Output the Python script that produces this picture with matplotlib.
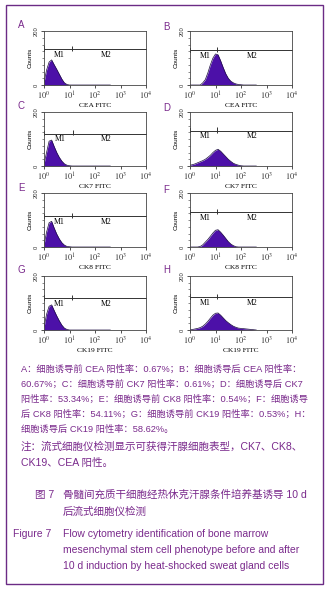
import numpy as np
import matplotlib
matplotlib.use("Agg")
import matplotlib.pyplot as plt
from matplotlib.patches import Rectangle

plt.rcParams['mathtext.fontset'] = 'stix'

# 数据：各面板的荧光强度 (log10) 与计数估计值
panel_labels = ['A', 'B', 'C', 'D', 'E', 'F', 'G', 'H']
x_labels = ['CEA FITC', 'CEA FITC', 'CK7 FITC', 'CK7 FITC',
            'CK8 FITC', 'CK8 FITC', 'CK19 FITC', 'CK19 FITC']
log_bins = [0.0, 0.1, 0.2, 0.3, 0.4, 0.5, 0.6, 0.7, 0.8, 0.9, 1.0, 1.1, 1.2,
            1.3, 1.4, 1.5, 1.6, 1.7, 1.8, 1.9, 2.0, 2.1, 2.2, 2.3, 2.4, 2.5, 2.6]
counts_A = [10, 55, 85, 93, 75, 58, 40, 22, 8, 2, 0, 0, 0, 0, 0, 0, 0, 0, 0, 0, 0, 0, 0, 0, 0, 0, 0]
counts_B = [0, 0, 0, 0, 0, 8, 20, 45, 75, 100, 115, 112, 90, 65, 42, 25, 14, 8, 4, 2, 1, 0, 0, 0, 0, 0, 0]
counts_C = [8, 50, 92, 96, 72, 50, 32, 18, 8, 3, 1, 0, 0, 0, 0, 0, 0, 0, 0, 0, 0, 0, 0, 0, 0, 0, 0]
counts_D = [3, 5, 8, 12, 16, 20, 25, 32, 40, 50, 58, 62, 55, 45, 35, 25, 17, 10, 6, 3, 1, 0, 0, 0, 0, 0, 0]
counts_E = [8, 55, 90, 95, 70, 48, 30, 16, 7, 2, 1, 0, 0, 0, 0, 0, 0, 0, 0, 0, 0, 0, 0, 0, 0, 0, 0]
counts_F = [0, 0, 0, 0, 2, 8, 18, 28, 40, 52, 62, 64, 55, 44, 32, 20, 11, 5, 1, 0, 0, 0, 0, 0, 0, 0, 0]
counts_G = [10, 58, 88, 93, 72, 52, 34, 18, 7, 2, 0, 0, 0, 0, 0, 0, 0, 0, 0, 0, 0, 0, 0, 0, 0, 0, 0]
counts_H = [0, 2, 4, 6, 9, 14, 22, 32, 44, 55, 62, 63, 55, 45, 35, 27, 20, 14, 10, 7, 6, 5, 4, 3, 2, 1, 0]
all_counts = [counts_A, counts_B, counts_C, counts_D, counts_E, counts_F, counts_G, counts_H]
gate_y = [133, 128, 120, 131, 113, 128, 118, 122]
gate_split = [1.1, 1.06, 1.14, 1.06, 1.1, 1.06, 1.1, 1.06]

caption_lines = [
    'A：细胞诱导前 CEA 阳性率：0.67%；B：细胞诱导后 CEA 阳性率：',
    '60.67%；C：细胞诱导前 CK7 阳性率：0.61%；D：细胞诱导后 CK7',
    '阳性率：53.34%；E：细胞诱导前 CK8 阳性率：0.54%；F：细胞诱导',
    '后 CK8 阳性率：54.11%；G：细胞诱导前 CK19 阳性率：0.53%；H：',
    '细胞诱导后 CK19 阳性率：58.62%。',
]
note_lines = ['注：流式细胞仪检测显示可获得汗腺细胞表型，CK7、CK8、',
              'CK19、CEA 阳性。']
title_cn = ['骨髓间充质干细胞经热休克汗腺条件培养基诱导 10 d', '后流式细胞仪检测']
title_en = ['Flow cytometry identification of bone marrow',
            'mesenchymal stem cell phenotype before and after',
            '10 d induction by heat-shocked sweat gland cells']

W, H = 329, 598
purple = '#7a2a8c'
fill_c = '#4c10a8'
fig = plt.figure(figsize=(W / 100, H / 100), dpi=100)
fig.patch.set_facecolor('white')

# 外框
fig.patches.append(Rectangle((6 / W, 1 - 584 / H), 317 / W, 579 / H, transform=fig.transFigure,
                             fill=False, edgecolor='#6b2b85', linewidth=1.0))

col_left = [44, 190]
row_top = [31, 112, 193, 276]
label_pos = [(18, 25), (163, 27), (18, 106), (163, 108), (18, 188), (163, 190), (18, 270), (163, 270)]
cjk = ['Liberation Sans', 'Noto Sans CJK SC']

for i in range(8):
    r, c = divmod(i, 2)
    ax = fig.add_axes([col_left[c] / W, 1 - (row_top[r] + 54) / H, 102 / W, 54 / H])
    xs = 10 ** np.array(log_bins)
    ys = np.array(all_counts[i])
    ax.fill_between(xs, 0, ys, color=fill_c, linewidth=0)
    ax.plot(xs, ys, color='#1a0a40', linewidth=0.5)
    ax.set_xscale('log')
    ax.set_xlim(1, 1e4)
    ax.set_ylim(0, 200)
    # M1 / M2 门
    gy = gate_y[i]
    sp = 10 ** gate_split[i]
    ax.plot([1, sp], [gy, gy], color='#333333', lw=0.7, clip_on=False)
    ax.plot([sp, 1e4], [gy, gy], color='#333333', lw=0.7, clip_on=False)
    ax.vlines([1.03], gy - 10, gy + 10, color='black', lw=1.2)
    ax.vlines([sp], gy - 7, gy + 12, color='#333333', lw=0.7)
    ax.text(10 ** (gate_split[i] / 2 + 0.05), gy - 6, 'M1', fontsize=5.6, family='Liberation Serif',
            ha='center', va='top')
    ax.text(10 ** 2.45, gy - 6, 'M2', fontsize=5.6, family='Liberation Serif', ha='center', va='top')
    ax.set_yticks([0, 200])
    ax.set_yticklabels(['0', '200'], rotation=90, va='center', fontsize=4.2, family='Liberation Sans')
    ax.set_yticks(np.arange(0, 201, 25), minor=True)
    ax.set_xticks([1, 10, 100, 1000, 10000])
    ax.set_xticklabels([r'$10^{0}$', r'$10^{1}$', r'$10^{2}$', r'$10^{3}$', r'$10^{4}$'], fontsize=6)
    ax.tick_params(axis='both', which='major', length=2.5, width=0.6, pad=1, colors='#333333')
    ax.tick_params(axis='both', which='minor', length=1.5, width=0.4, colors='#333333')
    ax.set_ylabel('Counts', fontsize=4.6, family='Liberation Sans', labelpad=1)
    ax.set_xlabel(x_labels[i], fontsize=5.4, family='Liberation Serif', labelpad=0.5)
    for s in ax.spines.values():
        s.set_linewidth(0.6)
        s.set_color('#444444')
    lx, ly = label_pos[i]
    fig.text(lx / W, 1 - ly / H, panel_labels[i], fontsize=7, color=purple,
             family='Liberation Sans', va='center')

# 图注
ys_cap = [369, 384, 399, 414, 429]
for t, y in zip(caption_lines, ys_cap):
    fig.text(21 / W, 1 - y / H, t, fontsize=6.65, color=purple, family=cjk, va='center')
for t, y in zip(note_lines, [447, 463]):
    fig.text(21 / W, 1 - y / H, t, fontsize=7.6, color=purple, family=cjk, va='center')
fig.text(35 / W, 1 - 495 / H, '图 7', fontsize=7.6, color=purple, family=cjk, va='center')
for t, y in zip(title_cn, [495, 512]):
    fig.text(63 / W, 1 - y / H, t, fontsize=7.6, color=purple, family=cjk, va='center')
fig.text(13 / W, 1 - 534 / H, 'Figure 7', fontsize=7.5, color=purple, family='Liberation Sans', va='center')
for t, y in zip(title_en, [534, 550, 566]):
    fig.text(63 / W, 1 - y / H, t, fontsize=7.5, color=purple, family='Liberation Sans', va='center')

fig.savefig('out.png', dpi=100)
